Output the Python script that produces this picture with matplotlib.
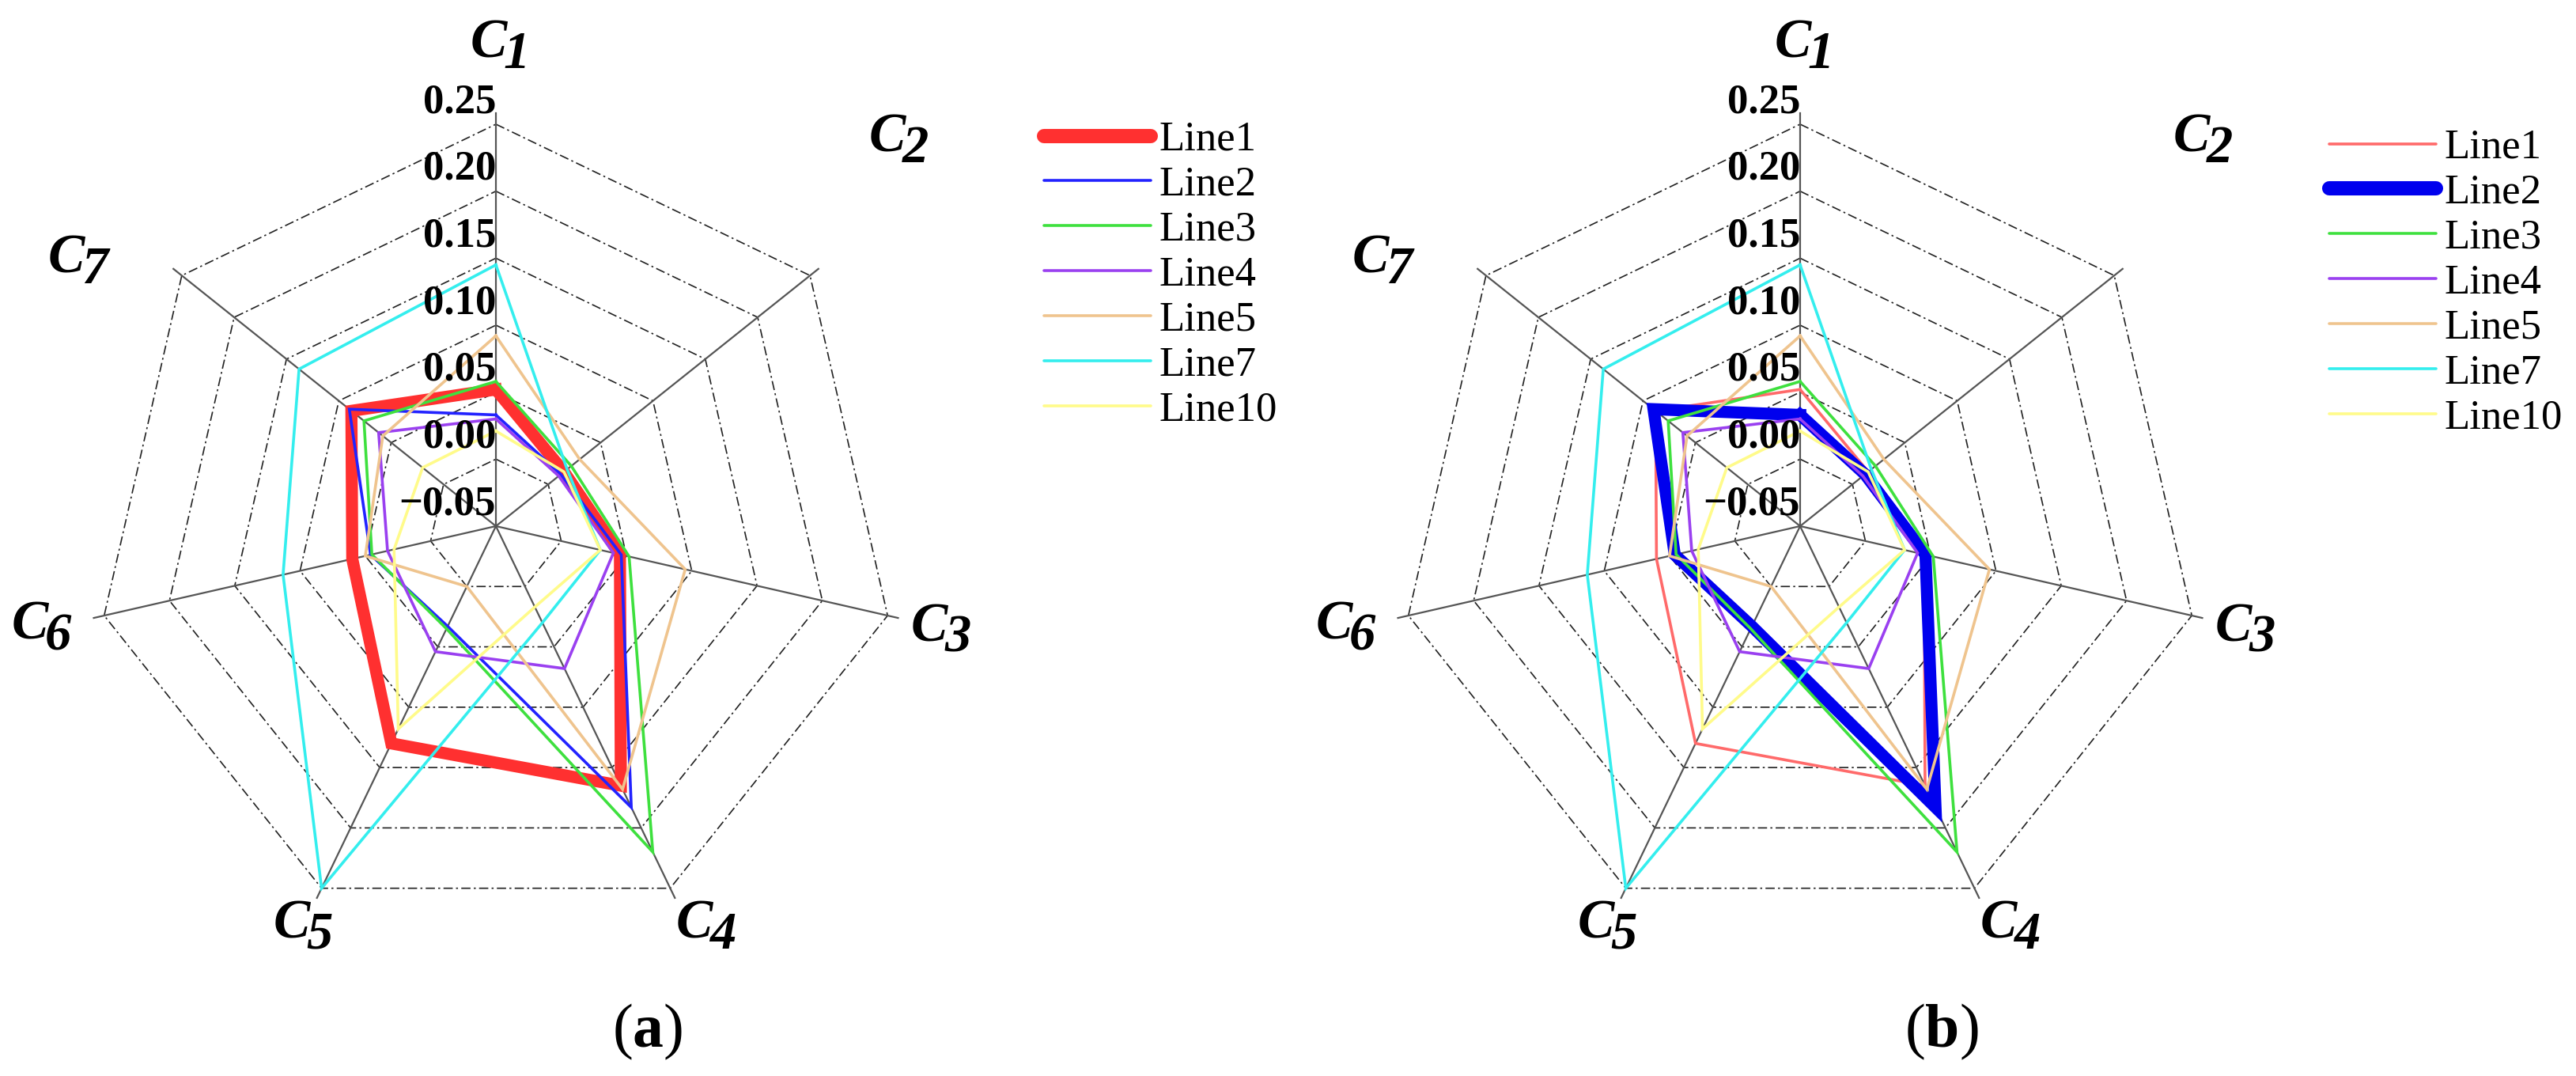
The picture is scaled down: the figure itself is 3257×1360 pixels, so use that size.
import numpy as np
import matplotlib
matplotlib.use("Agg")
import matplotlib.pyplot as plt
from matplotlib.lines import Line2D

plt.rcParams['font.family'] = ['Liberation Serif', 'DejaVu Serif']
plt.rcParams['mathtext.fontset'] = 'custom'
plt.rcParams['mathtext.rm'] = 'Liberation Serif'
plt.rcParams['mathtext.bf'] = 'Liberation Serif:bold'

# criteria on the spokes, clockwise from the top
criteria = ['1', '2', '3', '4', '5', '6', '7']
r_ticks = [-0.05, 0.00, 0.05, 0.10, 0.15, 0.20, 0.25]
r_tick_labels = ['\u22120.05', '0.00', '0.05', '0.10', '0.15', '0.20', '0.25']

# values (C1..C7)
line1 = [0.052, 0.015, 0.045, 0.165, 0.130, 0.060, 0.088]
line2 = [0.033, 0.012, 0.046, 0.183, 0.033, 0.046, 0.090]
line3 = [0.058, 0.022, 0.052, 0.220, 0.035, 0.045, 0.076]
line4 = [0.030, 0.010, 0.040, 0.068, 0.054, 0.033, 0.062]
line5 = [0.092, 0.030, 0.095, 0.168, 0.000, 0.050, 0.058]
line7 = [0.145, 0.018, 0.030, 0.030, 0.250, 0.113, 0.138]
line10 = [0.021, 0.015, 0.030, 0.017, 0.118, 0.028, 0.020]

names = ['Line1', 'Line2', 'Line3', 'Line4', 'Line5', 'Line7', 'Line10']
series = [line1, line2, line3, line4, line5, line7, line10]
colors = ['#ff3434', '#2222ff', '#3ee03e', '#9a40f0', '#efc48e', '#34eeee', '#fffb8a']

theta = np.arange(7) * 2 * np.pi / 7
theta_c = np.append(theta, theta[0])

fig = plt.figure(figsize=(32.57, 13.6), dpi=100)

R_px = 508
centers = [(627, 665), (2276, 665)]
highlight = [0, 1]
panel_tags = ['a', 'b']
tag_x = [819, 2455]
legend_pos = [(1320, 153), (2945, 163)]
thick_colors = ['#ff3030', '#0000ee']
thin_b_red = '#ff6a6a'

for k in range(2):
    cx, cy = centers[k]
    ax = fig.add_axes([(cx - R_px) / 3257, (1360 - cy - R_px) / 1360,
                       2 * R_px / 3257, 2 * R_px / 1360], projection='polar')
    ax.set_theta_zero_location('N')
    ax.set_theta_direction(-1)
    ax.set_ylim(-0.05, 0.25)
    ax.axis('off')

    # heptagon grid
    for r in r_ticks[1:]:
        ax.plot(theta_c, [r] * 8, color='#222222', lw=1.2,
                ls=(0, (7, 2.5, 1.5, 2.5)), clip_on=False, zorder=1)
    for th in theta:
        ax.plot([th, th], [-0.05, 0.258], color='#555555', lw=1.6,
                clip_on=False, zorder=1)

    handles = []
    for i, (name, vals) in enumerate(zip(names, series)):
        c = colors[i]
        lw = 2.6
        if i == highlight[k]:
            c = thick_colors[k]
            lw = 11
        elif k == 1 and i == 0:
            c = thin_b_red
        ax.plot(theta_c, np.append(vals, vals[0]), color=c, lw=lw,
                solid_joinstyle='miter', clip_on=False, zorder=3)
        handles.append(Line2D([], [], color=c, lw=lw if lw < 5 else 13,
                              solid_capstyle='round'))

    # radial tick labels along C1
    for r, lab in zip(r_ticks, r_tick_labels):
        ax.text(0, r + 0.0165, lab, ha='right', va='center', fontsize=38,
                fontweight='bold', zorder=4)

    # criterion labels
    lab_theta = np.deg2rad([0.5, 46.5, 103.5, 152.5, 205.5, 257.0, 302.0])
    lab_r = [0.306, 0.365, 0.292, 0.290, 0.284, 0.298, 0.318]
    for th, rr, sub in zip(lab_theta, lab_r, criteria):
        ax.annotate('C', xy=(th, rr), xytext=(6, 5), textcoords='offset points',
                    ha='right', va='center', fontsize=50, fontweight='bold',
                    fontstyle='italic', annotation_clip=False)
        ax.annotate(sub, xy=(th, rr), xytext=(3, -5), textcoords='offset points',
                    ha='left', va='center', fontsize=48, fontweight='bold',
                    fontstyle='italic', annotation_clip=False)

    lx, ly = legend_pos[k]
    fig.legend(handles, names, loc='upper left',
               bbox_to_anchor=(lx / 3257, 1 - ly / 1360),
               frameon=False, fontsize=38, handlelength=2.55,
               handletextpad=0.2, labelspacing=0.17,
               borderpad=0, borderaxespad=0)

    fig.text(tag_x[k] / 3257, 1 - 1304 / 1360, '($\\mathbf{%s}$)' % panel_tags[k],
             ha='center', va='center', fontsize=56)

fig.savefig('out.png', dpi=100, facecolor='white')
